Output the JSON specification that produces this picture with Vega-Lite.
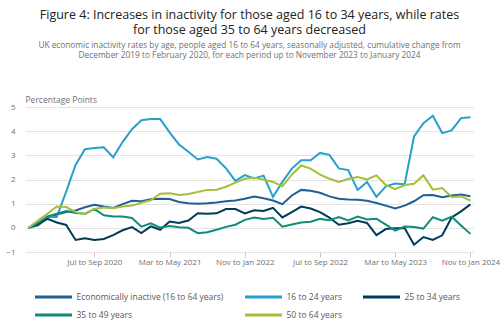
{
  "$schema": "https://vega.github.io/schema/vega-lite/v6.json",
  "width": 449,
  "height": 145,
  "autosize": {"type": "none"},
  "padding": {"left": 25, "top": 107, "right": 26, "bottom": 78},
  "background": "white",
  "config": {"font": "Open Sans", "view": {"stroke": null}},
  "title": {
    "text": ["Figure 4: Increases in inactivity for those aged 16 to 34 years, while rates", "for those aged 35 to 64 years decreased"],
    "subtitle": ["UK economic inactivity rates by age, people aged 16 to 64 years, seasonally adjusted, cumulative change from", "December 2019 to February 2020, for each period up to November 2023 to January 2024"],
    "anchor": "middle",
    "fontSize": 12.5,
    "fontWeight": "normal",
    "color": "#222222",
    "lineHeight": 15.5,
    "subtitleFontSize": 8.3,
    "subtitleColor": "#707071",
    "subtitleLineHeight": 10,
    "subtitlePadding": 4,
    "offset": 36
  },
  "data": {
    "values": [
      {"period": "Dec to Feb 2020", "Economically inactive (16 to 64 years)": 0, "16 to 24 years": 0, "25 to 34 years": 0, "35 to 49 years": 0, "50 to 64 years": 0},
      {"period": "Jan to Mar 2020", "Economically inactive (16 to 64 years)": 0.1, "16 to 24 years": 0.15, "25 to 34 years": 0.15, "35 to 49 years": 0.2, "50 to 64 years": 0.3},
      {"period": "Feb to Apr 2020", "Economically inactive (16 to 64 years)": 0.4, "16 to 24 years": 0.45, "25 to 34 years": 0.37, "35 to 49 years": 0.47, "50 to 64 years": 0.58},
      {"period": "Mar to May 2020", "Economically inactive (16 to 64 years)": 0.55, "16 to 24 years": 0.45, "25 to 34 years": 0.22, "35 to 49 years": 0.58, "50 to 64 years": 0.88},
      {"period": "Apr to Jun 2020", "Economically inactive (16 to 64 years)": 0.65, "16 to 24 years": 1.5, "25 to 34 years": 0.12, "35 to 49 years": 0.7, "50 to 64 years": 0.86},
      {"period": "May to Jul 2020", "Economically inactive (16 to 64 years)": 0.72, "16 to 24 years": 2.6, "25 to 34 years": -0.5, "35 to 49 years": 0.61, "50 to 64 years": 0.65},
      {"period": "Jun to Aug 2020", "Economically inactive (16 to 64 years)": 0.85, "16 to 24 years": 3.25, "25 to 34 years": -0.43, "35 to 49 years": 0.58, "50 to 64 years": 0.56},
      {"period": "Jul to Sep 2020", "Economically inactive (16 to 64 years)": 0.95, "16 to 24 years": 3.3, "25 to 34 years": -0.5, "35 to 49 years": 0.78, "50 to 64 years": 0.78},
      {"period": "Aug to Oct 2020", "Economically inactive (16 to 64 years)": 0.88, "16 to 24 years": 3.33, "25 to 34 years": -0.46, "35 to 49 years": 0.52, "50 to 64 years": 0.84},
      {"period": "Sep to Nov 2020", "Economically inactive (16 to 64 years)": 0.82, "16 to 24 years": 2.92, "25 to 34 years": -0.3, "35 to 49 years": 0.47, "50 to 64 years": 0.81},
      {"period": "Oct to Dec 2020", "Economically inactive (16 to 64 years)": 0.98, "16 to 24 years": 3.55, "25 to 34 years": -0.1, "35 to 49 years": 0.47, "50 to 64 years": 0.88},
      {"period": "Nov to Jan 2021", "Economically inactive (16 to 64 years)": 1.12, "16 to 24 years": 4.08, "25 to 34 years": 0.03, "35 to 49 years": 0.41, "50 to 64 years": 0.92},
      {"period": "Dec to Feb 2021", "Economically inactive (16 to 64 years)": 1.1, "16 to 24 years": 4.45, "25 to 34 years": -0.22, "35 to 49 years": 0.05, "50 to 64 years": 1.04},
      {"period": "Jan to Mar 2021", "Economically inactive (16 to 64 years)": 1.18, "16 to 24 years": 4.5, "25 to 34 years": 0.06, "35 to 49 years": 0.19, "50 to 64 years": 1.14},
      {"period": "Feb to Apr 2021", "Economically inactive (16 to 64 years)": 1.2, "16 to 24 years": 4.5, "25 to 34 years": -0.08, "35 to 49 years": 0.01, "50 to 64 years": 1.41},
      {"period": "Mar to May 2021", "Economically inactive (16 to 64 years)": 1.19, "16 to 24 years": 3.95, "25 to 34 years": 0.26, "35 to 49 years": 0.08, "50 to 64 years": 1.43},
      {"period": "Apr to Jun 2021", "Economically inactive (16 to 64 years)": 1.07, "16 to 24 years": 3.45, "25 to 34 years": 0.2, "35 to 49 years": 0.02, "50 to 64 years": 1.36},
      {"period": "May to Jul 2021", "Economically inactive (16 to 64 years)": 1.02, "16 to 24 years": 3.15, "25 to 34 years": 0.3, "35 to 49 years": 0.0, "50 to 64 years": 1.4},
      {"period": "Jun to Aug 2021", "Economically inactive (16 to 64 years)": 1.0, "16 to 24 years": 2.83, "25 to 34 years": 0.6, "35 to 49 years": -0.22, "50 to 64 years": 1.48},
      {"period": "Jul to Sep 2021", "Economically inactive (16 to 64 years)": 1.02, "16 to 24 years": 2.93, "25 to 34 years": 0.58, "35 to 49 years": -0.18, "50 to 64 years": 1.57},
      {"period": "Aug to Oct 2021", "Economically inactive (16 to 64 years)": 1.05, "16 to 24 years": 2.86, "25 to 34 years": 0.6, "35 to 49 years": -0.08, "50 to 64 years": 1.58},
      {"period": "Sep to Nov 2021", "Economically inactive (16 to 64 years)": 1.1, "16 to 24 years": 2.46, "25 to 34 years": 0.78, "35 to 49 years": 0.04, "50 to 64 years": 1.7},
      {"period": "Oct to Dec 2021", "Economically inactive (16 to 64 years)": 1.13, "16 to 24 years": 1.94, "25 to 34 years": 0.78, "35 to 49 years": 0.13, "50 to 64 years": 1.87},
      {"period": "Nov to Jan 2022", "Economically inactive (16 to 64 years)": 1.2, "16 to 24 years": 2.18, "25 to 34 years": 0.6, "35 to 49 years": 0.33, "50 to 64 years": 2.03},
      {"period": "Dec to Feb 2022", "Economically inactive (16 to 64 years)": 1.3, "16 to 24 years": 2.04, "25 to 34 years": 0.73, "35 to 49 years": 0.43, "50 to 64 years": 2.07},
      {"period": "Jan to Mar 2022", "Economically inactive (16 to 64 years)": 1.22, "16 to 24 years": 2.16, "25 to 34 years": 0.7, "35 to 49 years": 0.37, "50 to 64 years": 2.0},
      {"period": "Feb to Apr 2022", "Economically inactive (16 to 64 years)": 1.13, "16 to 24 years": 1.28, "25 to 34 years": 0.83, "35 to 49 years": 0.42, "50 to 64 years": 1.9},
      {"period": "Mar to May 2022", "Economically inactive (16 to 64 years)": 0.98, "16 to 24 years": 1.9, "25 to 34 years": 0.43, "35 to 49 years": 0.05, "50 to 64 years": 1.72},
      {"period": "Apr to Jun 2022", "Economically inactive (16 to 64 years)": 1.34, "16 to 24 years": 2.45, "25 to 34 years": 0.65, "35 to 49 years": 0.14, "50 to 64 years": 2.2},
      {"period": "May to Jul 2022", "Economically inactive (16 to 64 years)": 1.57, "16 to 24 years": 2.8, "25 to 34 years": 0.88, "35 to 49 years": 0.22, "50 to 64 years": 2.58},
      {"period": "Jun to Aug 2022", "Economically inactive (16 to 64 years)": 1.53, "16 to 24 years": 2.8, "25 to 34 years": 0.8, "35 to 49 years": 0.25, "50 to 64 years": 2.45},
      {"period": "Jul to Sep 2022", "Economically inactive (16 to 64 years)": 1.45, "16 to 24 years": 3.1, "25 to 34 years": 0.65, "35 to 49 years": 0.37, "50 to 64 years": 2.2},
      {"period": "Aug to Oct 2022", "Economically inactive (16 to 64 years)": 1.3, "16 to 24 years": 3.02, "25 to 34 years": 0.42, "35 to 49 years": 0.31, "50 to 64 years": 2.03},
      {"period": "Sep to Nov 2022", "Economically inactive (16 to 64 years)": 1.2, "16 to 24 years": 2.46, "25 to 34 years": 0.13, "35 to 49 years": 0.45, "50 to 64 years": 1.9},
      {"period": "Oct to Dec 2022", "Economically inactive (16 to 64 years)": 1.17, "16 to 24 years": 2.39, "25 to 34 years": 0.19, "35 to 49 years": 0.31, "50 to 64 years": 2.02},
      {"period": "Nov to Jan 2023", "Economically inactive (16 to 64 years)": 1.16, "16 to 24 years": 1.57, "25 to 34 years": 0.29, "35 to 49 years": 0.47, "50 to 64 years": 2.1},
      {"period": "Dec to Feb 2023", "Economically inactive (16 to 64 years)": 1.12, "16 to 24 years": 1.9, "25 to 34 years": 0.2, "35 to 49 years": 0.35, "50 to 64 years": 2.0},
      {"period": "Jan to Mar 2023", "Economically inactive (16 to 64 years)": 1.03, "16 to 24 years": 1.28, "25 to 34 years": -0.3, "35 to 49 years": 0.38, "50 to 64 years": 2.17},
      {"period": "Feb to Apr 2023", "Economically inactive (16 to 64 years)": 0.92, "16 to 24 years": 1.72, "25 to 34 years": -0.05, "35 to 49 years": 0.13, "50 to 64 years": 1.77},
      {"period": "Mar to May 2023", "Economically inactive (16 to 64 years)": 0.8, "16 to 24 years": 1.83, "25 to 34 years": -0.02, "35 to 49 years": -0.12, "50 to 64 years": 1.6},
      {"period": "Apr to Jun 2023", "Economically inactive (16 to 64 years)": 0.92, "16 to 24 years": 1.8, "25 to 34 years": -0.01, "35 to 49 years": 0.05, "50 to 64 years": 1.77},
      {"period": "May to Jul 2023", "Economically inactive (16 to 64 years)": 1.1, "16 to 24 years": 3.78, "25 to 34 years": -0.7, "35 to 49 years": 0.03, "50 to 64 years": 1.82},
      {"period": "Jun to Aug 2023", "Economically inactive (16 to 64 years)": 1.35, "16 to 24 years": 4.33, "25 to 34 years": -0.38, "35 to 49 years": -0.03, "50 to 64 years": 2.17},
      {"period": "Jul to Sep 2023", "Economically inactive (16 to 64 years)": 1.36, "16 to 24 years": 4.64, "25 to 34 years": -0.5, "35 to 49 years": 0.44, "50 to 64 years": 1.58},
      {"period": "Aug to Oct 2023", "Economically inactive (16 to 64 years)": 1.27, "16 to 24 years": 3.92, "25 to 34 years": -0.31, "35 to 49 years": 0.3, "50 to 64 years": 1.65},
      {"period": "Sep to Nov 2023", "Economically inactive (16 to 64 years)": 1.34, "16 to 24 years": 4.03, "25 to 34 years": 0.43, "35 to 49 years": 0.46, "50 to 64 years": 1.28},
      {"period": "Oct to Dec 2023", "Economically inactive (16 to 64 years)": 1.38, "16 to 24 years": 4.54, "25 to 34 years": 0.68, "35 to 49 years": 0.1, "50 to 64 years": 1.3},
      {"period": "Nov to Jan 2024", "Economically inactive (16 to 64 years)": 1.31, "16 to 24 years": 4.58, "25 to 34 years": 0.97, "35 to 49 years": -0.25, "50 to 64 years": 1.13}
    ]
  },
  "transform": [
    {"fold": ["Economically inactive (16 to 64 years)", "16 to 24 years", "25 to 34 years", "35 to 49 years", "50 to 64 years"], "as": ["series", "value"]}
  ],
  "mark": {"type": "line", "strokeWidth": 2},
  "encoding": {
    "x": {
      "field": "period",
      "type": "ordinal",
      "sort": null,
      "scale": {"type": "point", "padding": 0.38},
      "axis": {
        "values": ["Jul to Sep 2020", "Mar to May 2021", "Nov to Jan 2022", "Jul to Sep 2022", "Mar to May 2023", "Nov to Jan 2024"],
        "labelAngle": 0,
        "title": null,
        "domain": false,
        "grid": false,
        "ticks": true,
        "tickColor": "#c8c8c8",
        "tickSize": 5,
        "labelFontSize": 8,
        "labelColor": "#707071",
        "labelPadding": 1
      }
    },
    "y": {
      "field": "value",
      "type": "quantitative",
      "scale": {"domain": [-1, 5], "nice": false, "zero": false},
      "axis": {
        "values": [-1, 0, 1, 2, 3, 4, 5],
        "title": "Percentage Points",
        "titleAngle": 0,
        "titleX": 0,
        "titleY": -3,
        "titleAlign": "left",
        "titleBaseline": "bottom",
        "titleFontWeight": "normal",
        "titleFontSize": 8.5,
        "titleColor": "#707071",
        "domain": false,
        "ticks": false,
        "labelPadding": 10,
        "labelFontSize": 8,
        "labelColor": "#707071",
        "gridColor": "#e3e3e3"
      }
    },
    "color": {
      "field": "series",
      "type": "nominal",
      "sort": ["Economically inactive (16 to 64 years)", "16 to 24 years", "25 to 34 years", "35 to 49 years", "50 to 64 years"],
      "scale": {
        "domain": ["Economically inactive (16 to 64 years)", "16 to 24 years", "25 to 34 years", "35 to 49 years", "50 to 64 years"],
        "range": ["#206095", "#27A0CC", "#003C57", "#118C7B", "#A8BD3A"]
      },
      "legend": {
        "orient": "none",
        "legendX": 10,
        "legendY": 183.5,
        "title": null,
        "direction": "horizontal",
        "columns": 3,
        "gridAlign": "none",
        "symbolType": "M0,0H7.4",
        "symbolSize": 100,
        "symbolStrokeWidth": 3,
        "symbolOffset": -6.5,
        "labelOffset": 35,
        "labelFontSize": 8.5,
        "labelColor": "#58595b",
        "columnPadding": 15,
        "rowPadding": 5,
        "padding": 0
      }
    }
  }
}
